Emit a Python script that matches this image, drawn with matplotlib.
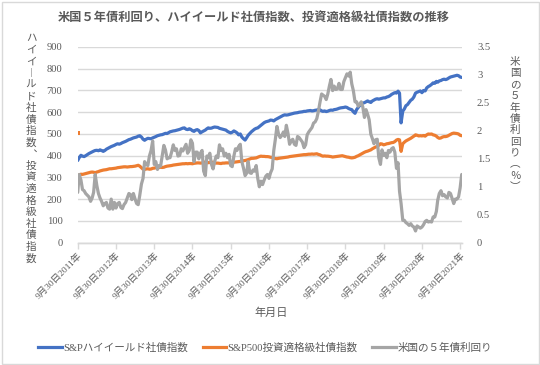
import matplotlib
matplotlib.use('Agg')
import matplotlib.pyplot as plt
import pandas as pd
import numpy as np
from matplotlib.patches import Rectangle

plt.rcParams['font.family'] = ['Liberation Serif', 'Noto Sans CJK JP']

# ---------------- data ----------------
title = "米国５年債利回り、ハイイールド社債指数、投資適格級社債指数の推移"
left_label = "ハイイ︱ルド社債指数︑投資適格級社債指数"
right_label = "米国の５年債利回り︵％︶"
x_label = "年月日"
series_names = ["S&Pハイイールド社債指数", "S&P500投資適格級社債指数", "米国の５年債利回り"]
tick_years = list(range(2011, 2022))
tick_labels = [f"9月30日{y}年" for y in tick_years]
left_ticks = [0, 100, 200, 300, 400, 500, 600, 700, 800, 900]
right_ticks = [0, 0.5, 1, 1.5, 2, 2.5, 3, 3.5]
right_tick_labels = ["0", "0.5", "1", "1.5", "2", "2.5", "3", "3.5"]

# semi-monthly observation dates: 2011-09-30, then 15th and month end, up to 2021-10-15
dates = [pd.Timestamp("2011-09-30")]
for per in pd.period_range("2011-10", "2021-09", freq="M"):
    dates.append(pd.Timestamp(per.year, per.month, 15))
    dates.append(per.to_timestamp(how="end").normalize())
dates.append(pd.Timestamp("2021-10-15"))

hy_index = [
    378, 392, 402, 398, 396, 400, 405,
    410, 414, 418, 421, 424, 425, 423, 427, 424, 420, 424, 430, 434, 438, 442, 445, 448, 452, 455, 453, 456, 460, 463, 466,
    470, 474, 476, 479, 482, 484, 486, 490, 492, 486, 476, 471, 476, 480, 479, 478, 482, 485, 488, 492, 494, 496, 497, 500,
    503, 502, 506, 510, 512, 514, 515, 517, 519, 521, 524, 527, 528, 522, 520, 524, 521, 515, 512, 518, 520, 516, 505, 510,
    514, 518, 524, 528, 526, 527, 530, 532, 531, 530, 526, 524, 522, 520, 518, 512, 508, 505, 508, 514, 510, 505, 496, 500,
    486, 478, 472, 482, 494, 502, 510, 516, 522, 526, 528, 534, 540, 546, 552, 556, 558, 560, 564, 563, 560, 566, 570, 574,
    578, 582, 586, 588, 587, 588, 590, 592, 594, 596, 597, 598, 600, 601, 602, 604, 604, 606, 607, 608, 606, 607, 609, 610,
    612, 611, 606, 604, 606, 603, 605, 608, 610, 609, 612, 613, 615, 618, 620, 621, 622, 624, 622, 617, 614, 612, 602, 595,
    612, 622, 632, 638, 642, 644, 648, 652, 648, 645, 652, 656, 660, 662, 660, 662, 664, 666, 666, 670, 672, 676, 682, 686,
    690, 688, 697, 688, 551, 605, 615, 630, 635, 645, 655, 660, 670, 688, 692, 695, 698, 690, 700, 698, 712, 718, 722, 728,
    735, 733, 742, 738, 744, 746, 750, 752, 750, 753, 758, 762, 764, 766, 768, 770, 768, 762, 760,
]

ig_index = [
    505, 312, 315, 314, 316, 318, 320,
    322, 324, 325, 324, 322, 325, 327, 330, 332, 334, 335, 336, 338, 340, 340, 341, 342, 343, 345, 346, 347, 348, 349, 349,
    348, 349, 350, 350, 351, 352, 354, 356, 352, 345, 338, 337, 339, 340, 338, 339, 342, 343, 345, 346, 346, 347, 346, 347,
    350, 352, 353, 354, 355, 357, 358, 359, 360, 361, 362, 363, 363, 364, 363, 364, 364, 363, 365, 366, 367, 367, 366, 367,
    370, 371, 369, 368, 369, 370, 370, 368, 366, 366, 365, 364, 366, 366, 367, 367, 367, 368, 369, 370, 371, 372, 373, 374,
    375, 377, 378, 380, 382, 385, 388, 388, 389, 390, 393, 396, 398, 397, 397, 396, 396, 395, 393, 392, 388, 387, 386, 388,
    389, 390, 391, 392, 393, 394, 396, 397, 398, 399, 400, 401, 402, 403, 404, 405, 405, 406, 407, 407, 408, 407, 408, 409,
    406, 404, 400, 398, 399, 398, 398, 397, 396, 394, 395, 396, 397, 398, 399, 400, 398, 396, 394, 393, 391, 390, 391, 393,
    397, 400, 404, 407, 412, 416, 419, 421, 424, 427, 432, 436, 440, 442, 448, 455, 454, 450, 452, 455, 456, 458, 460, 461,
    465, 472, 475, 473, 420, 455, 462, 468, 472, 476, 480, 485, 490, 496, 494, 491, 492, 491, 493, 490, 496, 500, 499, 500,
    496, 494, 490, 484, 480, 482, 486, 488, 488, 490, 494, 498, 502, 504, 503, 502, 500, 494, 492,
]

ust5y = [
    0.90, 1.22, 1.12, 0.95, 0.93, 0.88, 0.85,
    0.82, 0.74, 0.80, 0.90, 1.22, 1.02, 0.88, 0.80, 0.74, 0.66, 0.70, 0.72, 0.62, 0.60, 0.78, 0.60, 0.72, 0.62, 0.70, 0.72, 0.63, 0.61, 0.68, 0.72,
    0.80, 0.88, 0.86, 0.77, 0.88, 0.78, 0.70, 0.68, 0.85, 1.05, 1.15, 1.45, 1.40, 1.38, 1.55, 1.65, 1.82, 1.40, 1.45, 1.31, 1.38, 1.37, 1.55, 1.74,
    1.66, 1.50, 1.52, 1.52, 1.62, 1.75, 1.65, 1.68, 1.55, 1.56, 1.68, 1.64, 1.70, 1.76, 1.60, 1.65, 1.84, 1.78, 1.45, 1.62, 1.62, 1.50, 1.60, 1.65,
    1.28, 1.20, 1.55, 1.52, 1.60, 1.40, 1.32, 1.45, 1.55, 1.52, 1.75, 1.65, 1.68, 1.55, 1.60, 1.52, 1.58, 1.38, 1.36, 1.55, 1.68, 1.65, 1.72, 1.76,
    1.45, 1.33, 1.20, 1.24, 1.45, 1.25, 1.24, 1.30, 1.28, 1.38, 1.15, 1.00, 1.10, 1.04, 1.12, 1.19, 1.22, 1.15, 1.25, 1.32, 1.65, 1.85, 2.08, 1.94,
    1.88, 1.92, 1.98, 1.90, 2.10, 1.95, 1.76, 1.82, 1.85, 1.76, 1.74, 1.90, 1.88, 1.84, 1.80, 1.70, 1.75, 1.93, 1.98, 2.02, 2.06, 2.14, 2.16, 2.22,
    2.35, 2.52, 2.66, 2.64, 2.62, 2.56, 2.66, 2.80, 2.92, 2.72, 2.80, 2.74, 2.75, 2.85, 2.74, 2.74, 2.88, 2.95, 3.02, 2.98, 3.05, 2.84, 2.72, 2.52,
    2.52, 2.44, 2.48, 2.52, 2.43, 2.24, 2.38, 2.30, 2.20, 1.94, 1.86, 1.77, 1.84, 1.85, 1.52, 1.40, 1.66, 1.56, 1.60, 1.52, 1.65, 1.62, 1.68, 1.70,
    1.62, 1.33, 1.43, 0.92, 0.70, 0.40, 0.40, 0.36, 0.34, 0.31, 0.34, 0.30, 0.28, 0.21, 0.30, 0.28, 0.26, 0.28, 0.32, 0.38, 0.40, 0.37, 0.38, 0.37,
    0.46, 0.46, 0.56, 0.76, 0.88, 0.93, 0.84, 0.86, 0.82, 0.80, 0.90, 0.88, 0.79, 0.70, 0.78, 0.78, 0.82, 0.98, 1.22,
]

colors = ["#4472C4", "#ED7D31", "#A5A5A5"]
text_color = "#595959"
grid_color = "#D9D9D9"

# ---------------- figure ----------------
W, H = 540, 365
fig = plt.figure(figsize=(W / 100, H / 100), dpi=100)
fig.patches.append(Rectangle((1.5 / W, 1.5 / H), 1 - 3 / W, 1 - 3 / H, transform=fig.transFigure,
                             fill=False, edgecolor=grid_color, linewidth=1.0))

ax_l, ax_r, ax_t, ax_b = 77.7, 461.7, 47.0, 242.7
ax = fig.add_axes([ax_l / W, 1 - ax_b / H, (ax_r - ax_l) / W, (ax_b - ax_t) / H])
ax2 = ax.twinx()

# grid
ax.set_ylim(0, 900)
ax.set_yticks(left_ticks)
ax.set_yticklabels([str(v) for v in left_ticks])
ax.grid(axis='y', color=grid_color, linewidth=1.0)
ax.set_axisbelow(True)

ax.plot(dates, hy_index, color=colors[0], lw=2.3, solid_capstyle='round', zorder=3)
ax.plot(dates[1:], ig_index[1:], color=colors[1], lw=2.3, solid_capstyle='round', zorder=3)
ax.plot(dates[:1], ig_index[:1], 's', color=colors[1], ms=2.2, mew=0, zorder=3)
ax2.plot(dates, ust5y, color=colors[2], lw=2.3, solid_capstyle='round', zorder=3)

ax2.set_ylim(0, 3.5)
ax2.set_yticks(right_ticks)
ax2.set_yticklabels(right_tick_labels)

ax.set_xlim(dates[0], dates[-1])
ax.set_xticks([pd.Timestamp(y, 9, 30) for y in tick_years])
ax.set_xticklabels(tick_labels, rotation=45, ha='right', va='top', rotation_mode='anchor',
                   fontsize=6.8, color=text_color)

for a in (ax, ax2):
    for s in ('top', 'left', 'right'):
        a.spines[s].set_visible(False)
    a.spines['bottom'].set_color(grid_color)
    a.spines['bottom'].set_linewidth(1.0)

ax.tick_params(axis='x', length=4, width=1.0, color=grid_color, pad=2)
ax.tick_params(axis='y', length=0, pad=11, labelsize=7.6, labelcolor=text_color)
ax2.tick_params(axis='y', length=0, pad=11, labelsize=7.6, labelcolor=text_color)

# title
fig.text(254 / W, 1 - 17 / H, title, ha='center', va='center', fontsize=8.8, fontweight='bold',
         color=text_color, family=['Noto Sans CJK JP'])

# vertical axis labels (stacked characters, top to bottom)
def vtext(chars, xc, ytop, step, size):
    for i, ch in enumerate(chars):
        fig.text(xc / W, 1 - (ytop + i * step) / H, ch, ha='center', va='center', fontsize=size,
                 color=text_color, family=['Noto Sans CJK JP'])

vtext(left_label, 31, 38.5, 11.58, 7.6)
vtext(right_label, 515, 62, 11.36, 7.6)

# x label
fig.text(271.5 / W, 1 - 313 / H, x_label, ha='center', va='center', fontsize=8, color=text_color,
         family=['Noto Sans CJK JP'])

# legend
handles = [plt.Line2D([], [], color=c, lw=2.3) for c in colors]
leg = fig.legend(handles, series_names, loc='center', bbox_to_anchor=(265 / W, 1 - 348 / H),
                 ncol=3, frameon=False, fontsize=7.6, handlelength=2.2, handletextpad=0.15,
                 columnspacing=1.4, labelcolor=text_color)

fig.savefig('out.png', dpi=100)
